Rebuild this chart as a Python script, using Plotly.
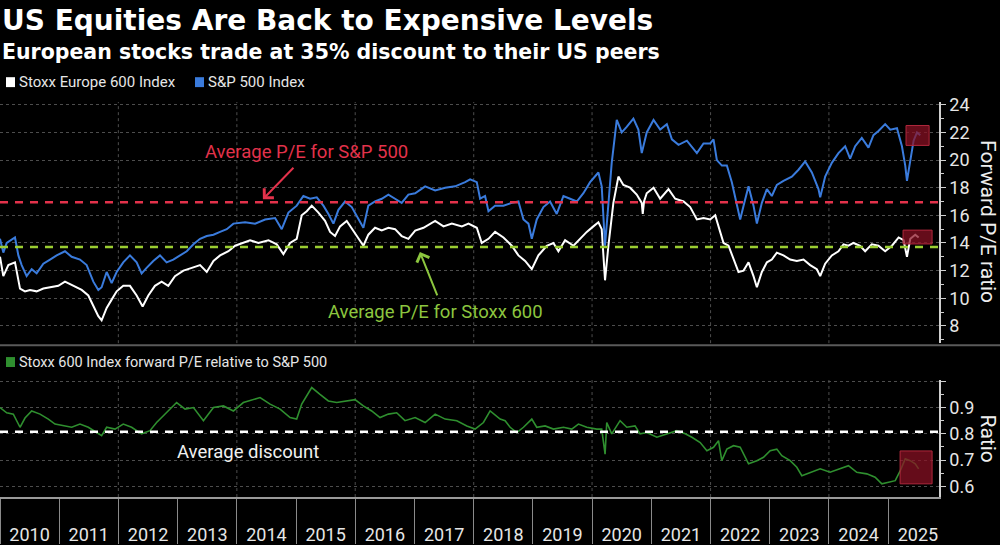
import pandas as pd
import plotly.graph_objects as go
from plotly.subplots import make_subplots

# --- data (x as decimal year) ---
spx_t = [2010.000, 2010.056, 2010.113, 2010.253, 2010.310, 2010.366, 2010.450, 2010.535, 2010.619, 2010.732,
         2010.845, 2010.957, 2011.098, 2011.211, 2011.351, 2011.464, 2011.577, 2011.661, 2011.717, 2011.802,
         2011.886, 2011.971, 2012.083, 2012.196, 2012.309, 2012.393, 2012.477, 2012.590, 2012.703, 2012.815,
         2012.928, 2013.041, 2013.153, 2013.266, 2013.378, 2013.491, 2013.604, 2013.716, 2013.829, 2013.941,
         2014.139, 2014.308, 2014.477, 2014.646, 2014.758, 2014.871, 2015.012, 2015.124, 2015.237, 2015.350,
         2015.462, 2015.547, 2015.631, 2015.716, 2015.828, 2015.941, 2016.053, 2016.138, 2016.222, 2016.335,
         2016.448, 2016.560, 2016.673, 2016.785, 2016.898, 2017.011, 2017.179, 2017.348, 2017.517, 2017.686,
         2017.855, 2017.939, 2018.052, 2018.108, 2018.192, 2018.249, 2018.361, 2018.502, 2018.643, 2018.755,
         2018.840, 2018.924, 2018.981, 2019.065, 2019.178, 2019.290, 2019.403, 2019.516, 2019.628, 2019.741,
         2019.853, 2019.966, 2020.107, 2020.163, 2020.219, 2020.276, 2020.332, 2020.417, 2020.501, 2020.585,
         2020.698, 2020.782, 2020.839, 2020.923, 2021.036, 2021.148, 2021.261, 2021.346, 2021.458, 2021.599,
         2021.768, 2021.880, 2021.993, 2022.050, 2022.106, 2022.191, 2022.275, 2022.359, 2022.416, 2022.500,
         2022.557, 2022.641, 2022.725, 2022.782, 2022.866, 2022.951, 2023.035, 2023.120, 2023.232, 2023.373,
         2023.486, 2023.598, 2023.711, 2023.823, 2023.852, 2023.936, 2024.049, 2024.161, 2024.274, 2024.358,
         2024.443, 2024.555, 2024.668, 2024.752, 2024.837, 2024.950, 2025.034, 2025.147, 2025.231, 2025.287,
         2025.316, 2025.372, 2025.428, 2025.485, 2025.541]
spx_pe = [14.3, 13.3, 14.0, 14.4, 13.1, 12.4, 11.6, 12.1, 11.8, 12.5,
          12.8, 13.1, 13.4, 13.0, 12.8, 12.4, 11.2, 10.6, 10.8, 11.9,
          11.1, 11.9, 12.6, 13.1, 12.6, 11.8, 12.2, 12.7, 13.1, 12.6,
          12.8, 13.1, 13.4, 13.9, 14.3, 14.5, 14.6, 14.8, 15.0, 15.4,
          15.5, 15.4, 15.7, 15.8, 15.0, 16.2, 16.7, 17.4, 17.2, 17.3,
          16.7, 16.1, 15.4, 16.4, 17.0, 16.6, 15.7, 15.1, 16.7, 17.0,
          17.2, 17.5, 17.2, 16.9, 17.5, 17.6, 18.1, 17.8, 18.0, 18.1,
          18.4, 18.6, 18.4, 17.2, 17.4, 16.3, 16.7, 16.7, 16.9, 17.0,
          15.7, 15.4, 14.3, 15.7, 16.6, 17.0, 16.1, 17.4, 17.2, 17.0,
          17.6, 18.4, 19.1, 18.1, 13.8, 17.2, 19.8, 22.9, 22.0, 22.4,
          23.0, 22.2, 20.5, 22.0, 22.9, 22.2, 22.6, 21.5, 21.1, 21.4,
          20.5, 21.2, 21.2, 21.5, 20.0, 19.6, 19.6, 18.4, 17.2, 15.7,
          16.7, 18.1, 16.7, 15.4, 16.9, 17.9, 17.4, 18.2, 18.5, 18.8,
          19.3, 19.9, 19.1, 17.9, 17.3, 18.8, 19.8, 20.5, 21.0, 20.1,
          21.0, 21.6, 20.9, 21.8, 22.1, 22.6, 22.2, 22.3, 21.0, 19.6,
          18.5, 20.0, 21.4, 22.0, 21.8]

stoxx_t = [2010.000, 2010.056, 2010.141, 2010.253, 2010.338, 2010.422, 2010.507, 2010.619, 2010.732, 2010.845,
           2010.985, 2011.098, 2011.239, 2011.380, 2011.492, 2011.577, 2011.661, 2011.717, 2011.802, 2011.886,
           2011.971, 2012.083, 2012.196, 2012.309, 2012.410, 2012.506, 2012.618, 2012.731, 2012.843, 2012.956,
           2013.097, 2013.238, 2013.378, 2013.491, 2013.604, 2013.716, 2013.857, 2013.970, 2014.083, 2014.223,
           2014.364, 2014.533, 2014.674, 2014.786, 2014.899, 2015.012, 2015.096, 2015.181, 2015.265, 2015.378,
           2015.490, 2015.575, 2015.659, 2015.744, 2015.856, 2015.969, 2016.081, 2016.138, 2016.222, 2016.335,
           2016.448, 2016.560, 2016.673, 2016.785, 2016.898, 2017.011, 2017.151, 2017.348, 2017.489, 2017.630,
           2017.799, 2017.911, 2018.052, 2018.136, 2018.249, 2018.361, 2018.502, 2018.643, 2018.755, 2018.868,
           2018.981, 2019.093, 2019.234, 2019.347, 2019.431, 2019.544, 2019.685, 2019.797, 2019.910, 2020.022,
           2020.107, 2020.163, 2020.219, 2020.276, 2020.360, 2020.445, 2020.529, 2020.642, 2020.754, 2020.839,
           2020.856, 2020.878, 2020.923, 2021.036, 2021.148, 2021.289, 2021.402, 2021.543, 2021.655, 2021.768,
           2021.880, 2021.993, 2022.078, 2022.162, 2022.219, 2022.303, 2022.388, 2022.472, 2022.557, 2022.641,
           2022.725, 2022.782, 2022.866, 2022.951, 2023.035, 2023.120, 2023.232, 2023.345, 2023.457, 2023.570,
           2023.683, 2023.795, 2023.852, 2023.936, 2024.049, 2024.161, 2024.246, 2024.330, 2024.415, 2024.527,
           2024.612, 2024.724, 2024.837, 2024.950, 2025.062, 2025.175, 2025.259, 2025.316, 2025.372, 2025.456,
           2025.513]
stoxx_pe = [13.0, 11.6, 12.4, 12.6, 10.7, 10.5, 10.6, 10.5, 10.7, 10.8,
            10.9, 11.2, 10.9, 10.6, 10.2, 9.4, 8.7, 8.4, 9.3, 9.9,
            10.5, 10.9, 10.9, 10.2, 9.4, 10.2, 10.9, 11.2, 10.9, 11.6,
            12.0, 12.2, 12.4, 11.9, 12.7, 13.1, 13.4, 13.8, 14.0, 14.2,
            14.0, 14.2, 13.9, 13.2, 14.0, 14.3, 16.0, 16.3, 16.7, 16.2,
            15.6, 14.8, 14.5, 15.2, 15.6, 14.9, 14.2, 13.8, 14.6, 15.1,
            14.9, 15.1, 15.0, 14.5, 14.3, 14.9, 15.1, 15.6, 15.2, 15.4,
            15.2, 15.4, 15.1, 14.0, 14.3, 14.8, 14.4, 13.8, 13.1, 12.7,
            12.1, 13.1, 13.8, 14.0, 13.4, 14.2, 13.8, 14.3, 14.8, 15.2,
            15.5, 15.0, 11.3, 13.8, 16.9, 18.8, 18.2, 18.0, 17.5, 16.9,
            16.1, 17.0, 17.6, 18.0, 17.2, 17.9, 17.2, 17.0, 16.6, 15.7,
            15.8, 15.7, 16.0, 14.8, 14.0, 13.8, 12.8, 11.9, 12.0, 12.6,
            11.6, 10.8, 11.9, 12.6, 12.8, 13.3, 13.1, 12.8, 12.7, 12.8,
            12.4, 12.1, 11.6, 12.5, 13.1, 13.4, 13.9, 13.8, 14.0, 13.8,
            13.4, 13.9, 13.8, 13.4, 13.8, 14.4, 14.2, 13.0, 14.3, 14.6,
            14.4]

ratio_t = [2010.000, 2010.113, 2010.225, 2010.338, 2010.422, 2010.535, 2010.676, 2010.816, 2010.929, 2011.070,
           2011.211, 2011.351, 2011.492, 2011.633, 2011.717, 2011.802, 2011.943, 2012.083, 2012.224, 2012.393,
           2012.534, 2012.646, 2012.815, 2012.984, 2013.125, 2013.266, 2013.435, 2013.604, 2013.773, 2013.941,
           2014.110, 2014.251, 2014.392, 2014.561, 2014.730, 2014.899, 2015.011, 2015.096, 2015.265, 2015.405,
           2015.546, 2015.687, 2015.856, 2015.997, 2016.137, 2016.278, 2016.419, 2016.560, 2016.700, 2016.841,
           2017.010, 2017.179, 2017.348, 2017.517, 2017.714, 2017.883, 2018.024, 2018.164, 2018.277, 2018.390,
           2018.446, 2018.530, 2018.615, 2018.728, 2018.840, 2018.981, 2019.065, 2019.206, 2019.347, 2019.516,
           2019.657, 2019.769, 2019.910, 2020.079, 2020.163, 2020.220, 2020.248, 2020.332, 2020.473, 2020.586,
           2020.726, 2020.811, 2020.923, 2021.092, 2021.261, 2021.430, 2021.571, 2021.684, 2021.824, 2021.937,
           2022.050, 2022.134, 2022.190, 2022.275, 2022.387, 2022.500, 2022.641, 2022.782, 2022.894, 2023.007,
           2023.119, 2023.204, 2023.345, 2023.457, 2023.542, 2023.683, 2023.852, 2024.020, 2024.189, 2024.330,
           2024.471, 2024.640, 2024.780, 2024.893, 2025.006, 2025.118, 2025.203, 2025.287, 2025.372, 2025.456,
           2025.513]
ratio = [0.900, 0.880, 0.875, 0.825, 0.860, 0.887, 0.875, 0.856, 0.837, 0.830,
         0.825, 0.837, 0.825, 0.805, 0.793, 0.825, 0.818, 0.837, 0.825, 0.800,
         0.812, 0.843, 0.880, 0.919, 0.894, 0.900, 0.850, 0.900, 0.906, 0.887,
         0.919, 0.930, 0.938, 0.913, 0.894, 0.862, 0.856, 0.913, 0.976, 0.950,
         0.925, 0.919, 0.925, 0.930, 0.906, 0.887, 0.862, 0.875, 0.880, 0.850,
         0.862, 0.843, 0.875, 0.856, 0.850, 0.830, 0.818, 0.843, 0.887, 0.868,
         0.856, 0.850, 0.825, 0.805, 0.825, 0.856, 0.825, 0.830, 0.818, 0.825,
         0.818, 0.837, 0.825, 0.818, 0.818, 0.723, 0.843, 0.800, 0.850, 0.825,
         0.830, 0.800, 0.805, 0.787, 0.800, 0.812, 0.800, 0.787, 0.767, 0.736,
         0.749, 0.774, 0.698, 0.742, 0.755, 0.749, 0.686, 0.698, 0.711, 0.736,
         0.742, 0.717, 0.698, 0.673, 0.641, 0.654, 0.667, 0.654, 0.667, 0.679,
         0.654, 0.648, 0.635, 0.610, 0.616, 0.622, 0.660, 0.705, 0.698, 0.686,
         0.667]

spx_avg = 16.95
stoxx_avg = 13.7
ratio_avg = 0.808
grid_years = [2012, 2014, 2016, 2018, 2020, 2022, 2024]


def to_date(t):
    y = int(t)
    return pd.Timestamp(year=y, month=1, day=1) + pd.Timedelta(days=(t - y) * 365.25)


def px(x):  # screen px -> paper x
    return x / 939


def py(y):  # screen px -> paper y
    return (500 - y) / 398


FONT = "Roboto"
TITLE_FONT = "DejaVu Sans"
WHITE = "#ffffff"
BLUE = "#3a7bdc"
GREEN = "#2f8f2f"
RED = "#e3324b"
LIME = "#9acd32"

fig = make_subplots(rows=2, cols=1, shared_xaxes=True)

fig.add_trace(go.Scatter(x=[to_date(t) for t in stoxx_t], y=stoxx_pe, mode="lines",
                         line=dict(color=WHITE, width=2), name="Stoxx Europe 600 Index"), row=1, col=1)
fig.add_trace(go.Scatter(x=[to_date(t) for t in spx_t], y=spx_pe, mode="lines",
                         line=dict(color=BLUE, width=2), name="S&P 500 Index"), row=1, col=1)
fig.add_trace(go.Scatter(x=[to_date(t) for t in ratio_t], y=ratio, mode="lines",
                         line=dict(color=GREEN, width=1.6),
                         name="Stoxx 600 Index forward P/E relative to S&P 500"), row=2, col=1)

# dotted vertical grid every two years
for yr in grid_years:
    fig.add_vline(x=f"{yr}-01-01", line=dict(color="#4d4d4d", width=1, dash="dot"),
                  layer="below", row="all", col=1)

# average lines
fig.add_hline(y=spx_avg, line=dict(color=RED, width=2.5, dash="8px,7px"), row=1, col=1)
fig.add_hline(y=stoxx_avg, line=dict(color=LIME, width=2.5, dash="8px,7px"), row=1, col=1)
fig.add_hline(y=ratio_avg, line=dict(color=WHITE, width=2.5, dash="8px,7px"), row=2, col=1)

# highlight boxes
box = dict(fillcolor="rgba(140,16,36,0.72)", line=dict(color="#b0283c", width=1), layer="above")
fig.add_shape(type="rect", x0=to_date(2025.30), x1=to_date(2025.69), y0=21.06, y1=22.5, row=1, col=1, **box)
fig.add_shape(type="rect", x0=to_date(2025.25), x1=to_date(2025.74), y0=13.93, y1=14.93, row=1, col=1, **box)
fig.add_shape(type="rect", x0=to_date(2025.20), x1=to_date(2025.74), y0=0.61, y1=0.735, row=2, col=1, **box)

# panel separator
fig.add_shape(type="line", xref="paper", yref="paper", x0=0, x1=1.07, y0=py(347), y1=py(347),
              line=dict(color="#5a5a5a", width=2))

# legend squares
for x0, y0, c in [(6, 82, WHITE), (195, 82, BLUE), (6, 364, GREEN)]:
    fig.add_shape(type="rect", xref="paper", yref="paper", x0=px(x0), x1=px(x0 + 9),
                  y0=py(y0 + 5), y1=py(y0 - 5), fillcolor=c, line=dict(width=0))

# title + subtitle as one block
fig.add_annotation(
    text="<b><span style='font-size:28px'>US Equities Are Back to Expensive Levels</span></b><br>"
         "<b><span style='font-size:20.5px'>European stocks trade at 35% discount to their US peers</span></b>",
    xref="paper", yref="paper", x=0, y=py(33), xanchor="left", yanchor="middle", align="left",
    showarrow=False, font=dict(family=TITLE_FONT, size=22, color=WHITE))

ann = [
    dict(text="Stoxx Europe 600 Index", x=px(17), y=py(82), size=15),
    dict(text="S&P 500 Index", x=px(206), y=py(82), size=15),
    dict(text="Stoxx 600 Index forward P/E relative to S&P 500", x=px(17), y=py(364), size=14.5),
]
for a in ann:
    fig.add_annotation(text=a["text"], xref="paper", yref="paper", x=a["x"], y=a["y"], xanchor="left",
                       yanchor="middle", showarrow=False, font=dict(family=FONT, size=a["size"], color="#e6e6e6"))

# axis titles on the right
for label, yc in [("Forward P/E ratio", 222), ("Ratio", 441)]:
    fig.add_annotation(text=label, xref="paper", yref="paper", x=px(988), y=py(yc), textangle=90,
                       xanchor="center", yanchor="middle", showarrow=False,
                       font=dict(family=FONT, size=21, color="#eeeeee"))

# callouts
fig.add_annotation(text="Average P/E for S&P 500", x=to_date(2015.17), y=20.55, xref="x", yref="y",
                   showarrow=False, font=dict(family=FONT, size=18.5, color=RED))
fig.add_annotation(text="", x=to_date(2014.44), y=17.16, xref="x", yref="y", ax=32, ay=-33,
                   showarrow=True, arrowhead=4, arrowsize=1.3, arrowwidth=2, arrowcolor=RED)
fig.add_annotation(text="Average P/E for Stoxx 600", x=to_date(2017.36), y=9.04, xref="x", yref="y",
                   showarrow=False, font=dict(family=FONT, size=18.5, color="#8cc63f"))
fig.add_annotation(text="", x=to_date(2017.09), y=13.35, xref="x", yref="y", ax=18, ay=45,
                   showarrow=True, arrowhead=4, arrowsize=1.3, arrowwidth=2, arrowcolor="#8cc63f")
fig.add_annotation(text="Average discount", x=to_date(2014.19), y=0.732, xref="x2", yref="y2",
                   showarrow=False, font=dict(family=FONT, size=18.5, color="#f0f0f0"))

x_range = ["2010-01-01", "2025-11-10"]
yaxis_common = dict(side="right", showgrid=True, gridcolor="#4d4d4d", griddash="dot", gridwidth=1,
                    zeroline=False, showline=True, linecolor="#cfcfcf", linewidth=1.5,
                    ticks="outside", ticklen=5, tickcolor="#cfcfcf",
                    tickfont=dict(family=FONT, size=18, color="#e6e6e6"))

fig.update_layout(
    width=1000, height=545,
    paper_bgcolor="#000000", plot_bgcolor="#000000",
    margin=dict(l=0, r=61, t=102, b=45),
    showlegend=False,
    font=dict(family=FONT, color="#e6e6e6"),
    xaxis=dict(range=x_range, showgrid=False, showticklabels=False, zeroline=False, showline=False, ticks=""),
    xaxis2=dict(range=x_range, type="date", showgrid=False, zeroline=False,
                dtick="M12", tick0="2010-01-01", tickformat="%Y", ticklabelmode="period",
                ticks="outside", ticklen=45, tickcolor="#8a8a8a", tickwidth=1, ticklabelstandoff=-25,
                showline=True, linecolor="#9a9a9a", linewidth=2,
                tickfont=dict(family=FONT, size=18, color="#e6e6e6")),
    yaxis=dict(domain=[py(345), 1], range=[6.75, 24.2], tickvals=list(range(8, 25, 2)),
               minor=dict(dtick=1, tick0=0, ticks="outside", ticklen=3, tickcolor="#cfcfcf", showgrid=False),
               **yaxis_common),
    yaxis2=dict(domain=[0, py(382)], range=[0.56, 1.005], tickvals=[0.6, 0.7, 0.8, 0.9, 1.0],
                ticktext=["0.6", "0.7", "0.8", "0.9", ""],
                minor=dict(dtick=0.05, tick0=0, ticks="outside", ticklen=3, tickcolor="#cfcfcf", showgrid=False),
                **yaxis_common),
)

# drop the page's default body margin so the figure sits at the window's corner
fig.write_html("out.html", config={"displayModeBar": False},
               post_script="document.body.style.margin='0px';")
